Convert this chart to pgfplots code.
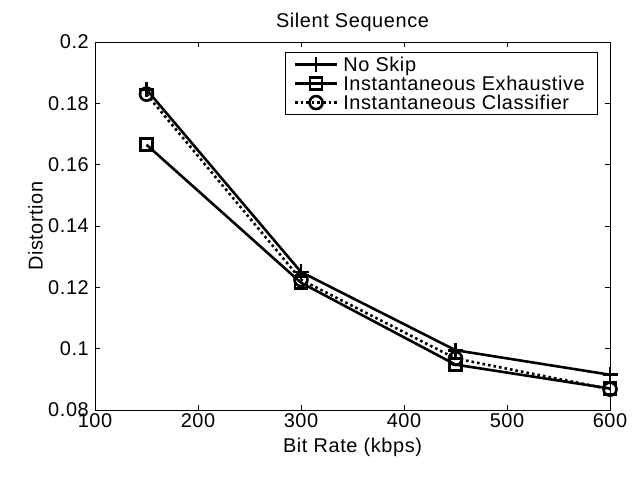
\documentclass[border=0pt]{standalone}
\usepackage{fontspec}
\setmainfont{Liberation Sans}[LetterSpace=3]
\usepackage{pgfplots}
\pgfplotsset{compat=1.18}
\begin{document}
\begin{tikzpicture}
\useasboundingbox (-95bp,-73bp) rectangle (538bp,410bp);
\begin{axis}[
  at={(0,0)}, anchor=origin,
  scale only axis,
  width=515bp, height=368bp,
  xmin=100, xmax=600, ymin=0.08, ymax=0.2,
  xtick={100,200,...,600},
  ytick={0.08,0.1,0.12,0.14,0.16,0.18,0.2},
  yticklabel style={/pgf/number format/fixed, /pgf/number format/precision=2, xshift=-4bp},
  xticklabel style={yshift=-1bp},
  /pgf/number format/assume math mode=true,
  tick align=inside,
  major tick length=5bp,
  tick style={black, line width=0.7bp},
  axis line style={line width=0.9bp},
  ticklabel style={font=\fontsize{20}{22}\selectfont, inner sep=2bp},
  xlabel={Bit Rate (kbps)},
  ylabel={Distortion},
  label style={font=\fontsize{20}{22}\selectfont},
  title={Silent Sequence},
  title style={font=\fontsize{20}{22}\selectfont, yshift=1bp},
  xlabel style={yshift=-5bp},
  ylabel style={yshift=0bp},
  every axis plot/.append style={line width=2.6bp},
  legend style={at={(0.977,0.972)}, anchor=north east, font=\fontsize{20}{22}\selectfont,
    draw=black, line width=0.9bp, row sep=3bp, inner xsep=8bp, inner ysep=4bp,
    nodes={inner xsep=5bp, inner ysep=0bp}},
  legend cell align=left,
  legend image code/.code={\draw[mark repeat=2,mark phase=2,#1] plot coordinates {(0bp,0bp) (21bp,0bp) (42bp,0bp)};},
]
\addplot[black, line width=2.6bp, mark=+, mark size=7.5bp, mark options={solid, line width=2.8bp}]
  coordinates {(150,0.1845) (300,0.1250) (450,0.0995) (600,0.0915)};
\addlegendentry{No Skip}
\addplot[black, line width=2.6bp, mark=square, mark size=6bp, mark options={solid, line width=2.6bp, fill=none}]
  coordinates {(150,0.1665) (300,0.1215) (450,0.0948) (600,0.0870)};
\addlegendentry{Instantaneous Exhaustive}
\addplot[black, line width=2.6bp, dash pattern=on 2.6bp off 3bp, mark=o, mark size=6.5bp, mark options={solid, line width=2.6bp, fill=none}]
  coordinates {(150,0.1830) (300,0.1225) (450,0.0968) (600,0.0868)};
\addlegendentry{Instantaneous Classifier}
\end{axis}
\end{tikzpicture}
\end{document}
